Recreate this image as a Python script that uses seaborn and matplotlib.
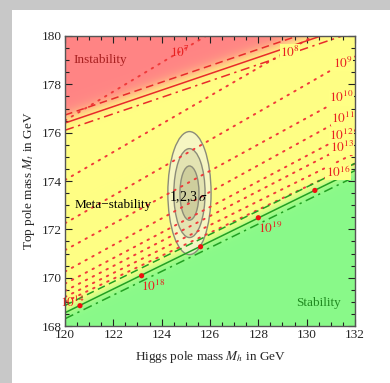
import numpy as np
import pandas as pd
import matplotlib
matplotlib.use("Agg")
import matplotlib.pyplot as plt
from matplotlib.patches import Ellipse, Rectangle
from matplotlib.ticker import MultipleLocator
import seaborn as sns

sns.set_theme(style="ticks")
plt.rcParams["font.family"] = ["Liberation Serif", "DejaVu Serif"]
plt.rcParams["mathtext.fontset"] = "stix"

# ---------------- data ----------------
mh_edges = [120.0, 132.0]
inst_mt = [176.40, 180.48]       # instability boundary (solid)
inst_hi_mt = [176.73, 180.81]    # upper (dashed)
inst_lo_mt = [176.10, 180.18]    # lower (dash-dot)
stab_mt = [168.55, 174.43]       # stability boundary (solid)
stab_hi_mt = [168.85, 174.73]    # upper (dashed)
stab_lo_mt = [168.30, 174.18]    # lower (dash-dot)

contour_exp = [7, 8, 9, 10, 11, 12, 13, 14, 16]
contour_left = [176.50, 174.04, 172.25, 171.14, 170.25, 169.75, 169.45, 169.20, 169.00]
contour_right = [183.70, 181.00, 179.15, 177.70, 176.85, 176.10, 175.65, 175.15, 174.72]

label_text = ["7", "8", "9", "10", "11", "12", "13", "16"]
label_mh = [124.76, 129.31, 131.50, 131.45, 131.50, 131.45, 131.45, 131.30]
label_mt = [179.34, 179.34, 178.87, 177.45, 176.59, 175.90, 175.40, 174.38]
label_box = [False, True, True, True, True, True, True, True]

dot_mh = [120.62, 123.17, 125.61, 128.00, 130.34]
dot_mt = [168.84, 170.08, 171.28, 172.48, 173.61]
dot_label = ["14", "18", None, "19", None]
dot_label_mh = [120.28, 123.65, None, 128.48, None]
dot_label_mt = [168.96, 169.65, None, 172.04, None]

center_mh, center_mt = 125.15, 173.50
sigma_mh, sigma_mt = 0.26, 0.74
chi2_levels = [2.30, 6.18, 11.83]

# ---------------- figure ----------------
fig = plt.figure(figsize=(3.90, 3.83), dpi=100)
fig.patch.set_facecolor("white")
fig.patches.append(Rectangle((0, 1 - 10 / 383), 1, 10 / 383, transform=fig.transFigure,
                             facecolor="#c8c8c8", edgecolor="none", zorder=-10))
fig.patches.append(Rectangle((0, 0), 12 / 390, 1, transform=fig.transFigure,
                             facecolor="#c8c8c8", edgecolor="none", zorder=-10))
ax = fig.add_axes([65 / 390, 1 - 326 / 383, 290 / 390, 290 / 383])

# background shading
def line_at(vals, x):
    return vals[0] + (vals[1] - vals[0]) * (x - mh_edges[0]) / (mh_edges[1] - mh_edges[0])

gx = np.linspace(120, 132, 500)
gy = np.linspace(168, 180, 500)
X, Y = np.meshgrid(gx, gy)
red = np.array([1.0, 0.52, 0.52])
yel = np.array([1.0, 1.0, 0.52])
grn = np.array([0.54, 0.98, 0.54])
t_red = 1 / (1 + np.exp(-(Y - line_at(inst_mt, X) - 0.25) / 0.16))
t_grn = 1 / (1 + np.exp((Y - line_at(stab_mt, X) - 0.05) / 0.12))
img = yel[None, None, :] * np.ones(X.shape)[..., None]
img = img * (1 - t_red[..., None]) + red * t_red[..., None]
img = img * (1 - t_grn[..., None]) + grn * t_grn[..., None]
ax.imshow(img, origin="lower", extent=[120, 132, 168, 180], aspect="auto", zorder=0)

# ellipses
fills = [("#f4f4d8", 0.75), ("#b8b890", 0.30), ("#a8a878", 0.35)]
for lev, (fc, al) in zip(chi2_levels[::-1], fills):
    k = np.sqrt(lev)
    ax.add_patch(Ellipse((center_mh, center_mt), 2 * k * sigma_mh, 2 * k * sigma_mt,
                         facecolor=fc, alpha=al, edgecolor="none", zorder=1))
    ax.add_patch(Ellipse((center_mh, center_mt), 2 * k * sigma_mh, 2 * k * sigma_mt,
                         facecolor="none", edgecolor="#8c8c78", lw=1.0, zorder=1.5))

# dotted contours
for e, l, r in zip(contour_exp, contour_left, contour_right):
    sns.lineplot(x=mh_edges, y=[l, r], ax=ax, color="#f03a3a", lw=1.4,
                 linestyle=(0, (0.8, 3.2)), dash_capstyle="round", zorder=2)

# boundaries
sns.lineplot(x=mh_edges, y=inst_mt, ax=ax, color="#e82a2a", lw=1.1, zorder=3)
sns.lineplot(x=mh_edges, y=inst_hi_mt, ax=ax, color="#e82a2a", lw=1.1, linestyle=(0, (5, 3)), zorder=3)
sns.lineplot(x=mh_edges, y=inst_lo_mt, ax=ax, color="#e82a2a", lw=1.1, linestyle=(0, (6, 3, 1.5, 3)), zorder=3)
sns.lineplot(x=mh_edges, y=stab_mt, ax=ax, color="#22a022", lw=1.1, zorder=3)
sns.lineplot(x=mh_edges, y=stab_hi_mt, ax=ax, color="#22a022", lw=1.1, linestyle=(0, (5, 3)), zorder=3)
sns.lineplot(x=mh_edges, y=stab_lo_mt, ax=ax, color="#22a022", lw=1.1, linestyle=(0, (6, 3, 1.5, 3)), zorder=3)

sns.scatterplot(x=dot_mh, y=dot_mt, ax=ax, color="#ee1010", s=14, edgecolor="none", zorder=4)

# contour labels
for t, x, y, b in zip(label_text, label_mh, label_mt, label_box):
    kw = dict(bbox=dict(facecolor="#ffff85", edgecolor="none", pad=0.3)) if b else {}
    ax.text(x, y, r"$10^{%s}$" % t, color="#e82020", fontsize=9.5, ha="center", va="center",
            zorder=5, **kw)
for t, x, y in zip(dot_label, dot_label_mh, dot_label_mt):
    if t is None:
        continue
    ax.text(x, y, r"$10^{%s}$" % t, color="#e82020", fontsize=9.5, ha="center", va="center", zorder=5)

ax.text(121.47, 179.0, "Instability", color="#a82020", fontsize=9.5, ha="center", va="center", zorder=5)
ax.text(122.0, 173.0, "Meta\u2212stability", color="black", fontsize=9.5, ha="center", va="center", zorder=5)
ax.text(130.5, 168.96, "Stability", color="#208a20", fontsize=9.5, ha="center", va="center", zorder=5)
ax.text(125.09, 173.34, r"1,2,3$\,\sigma$", color="black", fontsize=10, ha="center", va="center", zorder=5)

ax.set_xlim(120, 132)
ax.set_ylim(168, 180)
ax.xaxis.set_major_locator(MultipleLocator(2))
ax.yaxis.set_major_locator(MultipleLocator(2))
ax.xaxis.set_minor_locator(MultipleLocator(0.5))
ax.yaxis.set_minor_locator(MultipleLocator(0.5))
ax.tick_params(which="both", direction="in", top=True, right=True, color="#222222", width=0.8,
               labelsize=9.5, pad=2)
ax.tick_params(which="major", length=5)
ax.tick_params(which="minor", length=3)
for s in ax.spines.values():
    s.set_color("#555555")
    s.set_linewidth(1.0)
    s.set_zorder(6)
ax.set_xlabel(r"Higgs pole mass $M_h$ in GeV", fontsize=9.5, labelpad=6)
ax.set_ylabel(r"Top pole mass $M_t$ in GeV", fontsize=9.5, labelpad=4)

fig.savefig("out.png", dpi=100)
